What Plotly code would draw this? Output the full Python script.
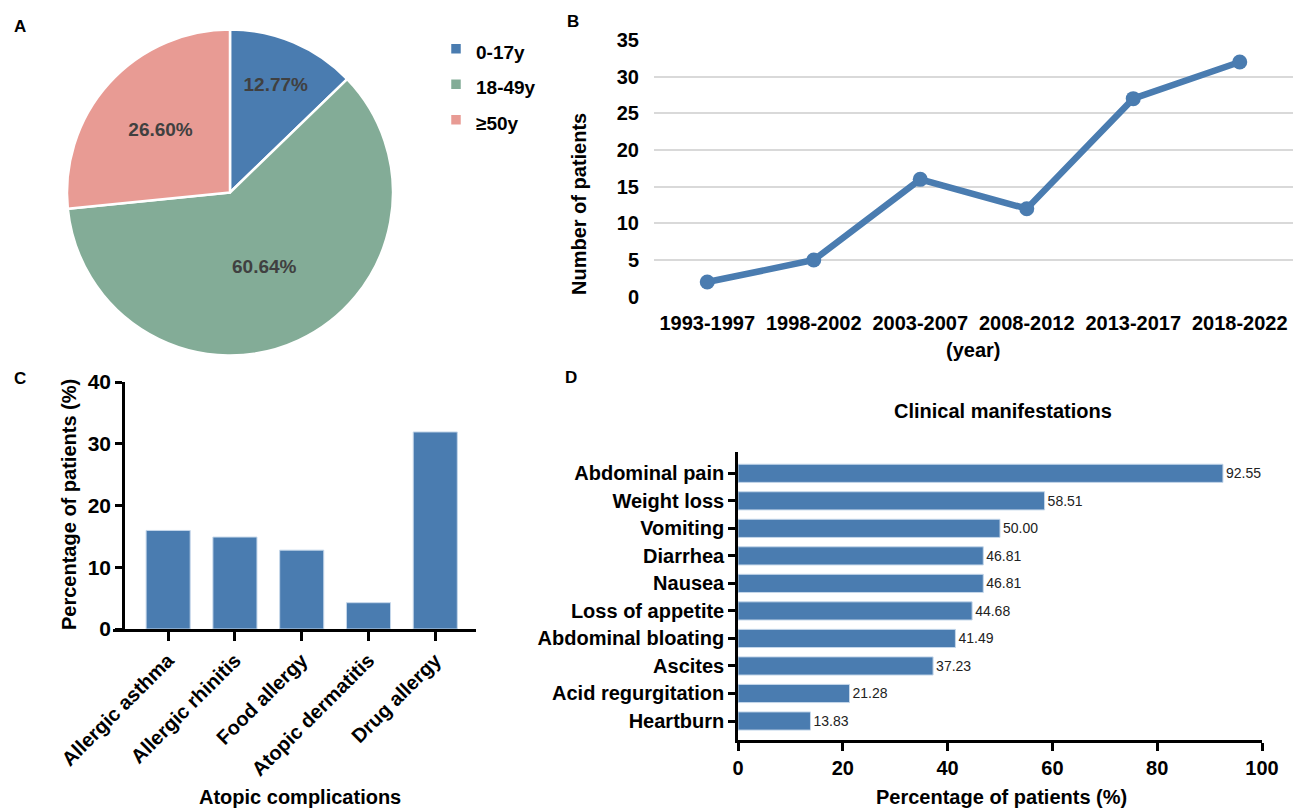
import plotly.graph_objects as go

# ---------------- data ----------------
age_groups = ["0-17y", "18-49y", "≥50y"]
age_pct = [12.77, 60.64, 26.60]
age_colors = ["#4A7CB0", "#83AC97", "#E89B94"]

periods = ["1993-1997", "1998-2002", "2003-2007", "2008-2012", "2013-2017", "2018-2022"]
patients = [2, 5, 16, 12, 27, 32]

atopic = ["Allergic asthma", "Allergic rhinitis", "Food allergy", "Atopic dermatitis", "Drug allergy"]
atopic_pct = [15.96, 14.89, 12.77, 4.26, 31.91]

symptoms = ["Abdominal pain", "Weight loss", "Vomiting", "Diarrhea", "Nausea",
            "Loss of appetite", "Abdominal bloating", "Ascites", "Acid regurgitation", "Heartburn"]
symptom_pct = [92.55, 58.51, 50.00, 46.81, 46.81, 44.68, 41.49, 37.23, 21.28, 13.83]

# ---------------- layout helpers ----------------
W, H = 1293, 810
FONT = "Liberation Sans, Arial, sans-serif"
BLUE = "#4A7CB0"
EDGE = "#C5D7EA"


def fx(px):
    return px / W


def fy(py):
    return 1 - py / H


bold = lambda size, color="black": dict(family=FONT, size=size, color=color, weight="bold")

fig = go.Figure()

# A: pie (legend labels get a smaller inline size so the legend rows are spaced wider)
legend_labels = [f"<span style='font-size:19px'>{g}</span>" for g in age_groups]
fig.add_trace(go.Pie(
    labels=legend_labels, values=age_pct,
    text=[f"{v:.2f}%" for v in age_pct], textinfo="text",
    textposition="inside", insidetextorientation="horizontal",
    textfont=bold(19, "#404040"),
    sort=False, direction="clockwise", rotation=0,
    marker=dict(colors=age_colors, line=dict(color="white", width=2.5)),
    domain=dict(x=[fx(67), fx(393)], y=[fy(356), fy(29)]),
    showlegend=True, automargin=False, hoverinfo="label+percent",
))

# B: line
fig.add_trace(go.Scatter(
    x=periods, y=patients, mode="lines+markers",
    line=dict(color=BLUE, width=6.5), marker=dict(color=BLUE, size=15),
    xaxis="x", yaxis="y", showlegend=False, cliponaxis=False,
))

# C: vertical bars
fig.add_trace(go.Bar(
    x=atopic, y=atopic_pct, width=0.66,
    marker=dict(color=BLUE, line=dict(color=EDGE, width=1)),
    xaxis="x2", yaxis="y2", showlegend=False,
))

# D: horizontal bars
fig.add_trace(go.Bar(
    x=symptom_pct, y=symptoms, orientation="h", width=0.66,
    marker=dict(color=BLUE, line=dict(color=EDGE, width=1)),
    text=[f"{v:.2f}" for v in symptom_pct], textposition="outside",
    textfont=dict(family=FONT, size=14, color="#222222"),
    cliponaxis=False,
    xaxis="x3", yaxis="y3", showlegend=False,
))

annotations = []


def ann(text, x, y, size=20, angle=0, xanchor="center", yanchor="middle", weight="bold"):
    annotations.append(dict(
        text=text, x=fx(x), y=fy(y), xref="paper", yref="paper",
        showarrow=False, textangle=angle, xanchor=xanchor, yanchor=yanchor,
        font=dict(family=FONT, size=size, color="black", weight=weight),
    ))


# panel letters
ann("A", 20, 26, size=17)
ann("B", 573, 22, size=17)
ann("C", 20, 378, size=17)
ann("D", 571, 377, size=17)

# axis titles
ann("(year)", 973, 350)
ann("Number of patients", 579, 204, angle=-90)
ann("Atopic complications", 300, 797)
ann("Percentage of patients (%)", 69, 505, angle=-90)
ann("Clinical manifestations", 1003, 411)
ann("Percentage of patients (%)", 1001, 797)

common = dict(automargin=False, zeroline=False)

fig.update_layout(
    template="none",
    width=W, height=H,
    margin=dict(l=0, r=0, t=0, b=0, pad=0),
    paper_bgcolor="white", plot_bgcolor="white",
    font=dict(family=FONT, color="black"),
    annotations=annotations,
    legend=dict(
        x=fx(436), y=fy(26), xanchor="left", yanchor="top",
        font=bold(25), bgcolor="rgba(0,0,0,0)", itemwidth=30,
        traceorder="normal",
    ),
    # B
    xaxis=dict(
        domain=[fx(654), 1.0], anchor="y", type="category", range=[-0.5, 5.5],
        showgrid=False, showline=False, ticks="",
        tickfont=bold(20), ticklabelstandoff=12, **common,
    ),
    yaxis=dict(
        domain=[fy(296.7), fy(40)], anchor="x", range=[0, 35], dtick=5,
        showgrid=True, gridcolor="#D9D9D9", gridwidth=1.5,
        showline=False, ticks="",
        tickfont=bold(20), ticklabelstandoff=14, **common,
    ),
    # C
    xaxis2=dict(
        domain=[fx(113), fx(476)], anchor="y2", type="category", range=[-0.826, 4.61],
        showgrid=False, showline=True, linecolor="black", linewidth=2.5,
        ticks="outside", ticklen=9, tickwidth=2.5, tickcolor="black",
        tickangle=-45, tickfont=bold(20), **common,
    ),
    yaxis2=dict(
        domain=[fy(629), fy(382)], anchor="free", position=fx(123), range=[0, 40], dtick=10,
        showgrid=False, showline=True, linecolor="black", linewidth=2.5,
        ticks="outside", ticklen=7, tickwidth=2.5, tickcolor="black",
        tickfont=bold(21), **common,
    ),
    # D
    xaxis3=dict(
        domain=[fx(738), fx(1262)], anchor="y3", range=[0, 100], dtick=20,
        showgrid=False, showline=True, linecolor="black", linewidth=2.5,
        ticks="outside", ticklen=8, tickwidth=2.5, tickcolor="black",
        tickfont=bold(20), **common,
    ),
    yaxis3=dict(
        domain=[fy(740), fy(451.7)], anchor="x3", type="category",
        categoryorder="array", categoryarray=list(reversed(symptoms)),
        range=[-0.69, 9.785],
        showgrid=False, showline=True, linecolor="black", linewidth=2.5,
        ticks="outside", ticklen=7, tickwidth=2.5, tickcolor="black",
        tickfont=bold(20), **common,
    ),
)

fig.write_html(
    "out.html",
    config={"displayModeBar": False},
    post_script="document.body.style.margin='0';document.body.style.overflow='hidden';",
)
